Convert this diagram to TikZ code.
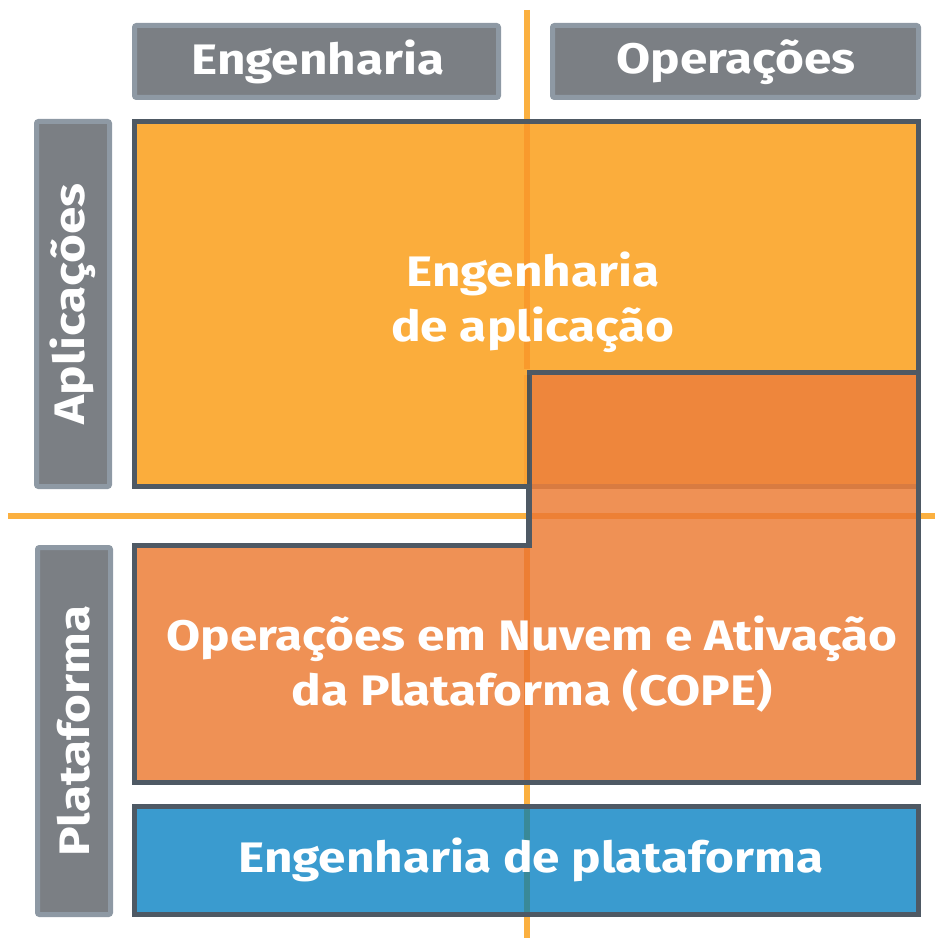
\documentclass[tikz,border=0pt]{standalone}
\usepackage{fontspec}
\setmainfont{Fira Sans}[FakeStretch=1.16]
\definecolor{lineor}{HTML}{FBB040}
\definecolor{appor}{HTML}{FBAD3C}
\definecolor{copeor}{HTML}{ED813C}
\definecolor{platblue}{HTML}{3A9BCF}
\definecolor{darkedge}{HTML}{4E5964}
\definecolor{grayfill}{HTML}{7B7F84}
\definecolor{grayedge}{HTML}{8E99A4}
\tikzset{
  hdr/.style={draw=grayedge, fill=grayfill, line width=3.75pt, rounded corners=1.5pt},
  boxedge/.style={draw=darkedge, line width=3.75pt},
  lbl/.style={text=white, font=\bfseries\fontsize{32}{41}\selectfont, align=center, inner sep=0pt},
  guide/.style={draw=lineor, line width=4pt},
}
\begin{document}
\begin{tikzpicture}[x=0.75pt,y=-0.75pt]
\useasboundingbox (0,0) rectangle (935,938);
% guide lines
\coordinate (vtop) at (527,10);
\coordinate (vmida) at (527,489);
\coordinate (vmidb) at (527,545);
\coordinate (vbot) at (527,938);
\coordinate (hl) at (8,516);
\coordinate (hm) at (528,516);
\coordinate (hr) at (935,516);
\draw[guide] (vtop) -- (vmida);
\draw[guide] (vmidb) -- (vbot);
\draw[guide] (hl) -- (hr);
% application engineering box
\path[boxedge, fill=appor] (134.5,121.5) coordinate (appnw) rectangle (918.5,486.5) coordinate (appse);
% COPE
\path[boxedge, fill=copeor, fill opacity=0.87] (529.5,372) -- (918.5,372) -- (918.5,782.5) -- (134.5,782.5) -- (134.5,545.5) -- (529.5,545.5) -- cycle;
\draw[darkedge, line width=3pt] (528,488) -- (528,545.5);
% platform engineering
\path[boxedge, fill=platblue] (134.5,806.5) rectangle (918.5,914.5);
% guide overlay
\begin{scope}[blend mode=multiply]
  \draw[guide, opacity=0.35] (527,124) -- (527,369);
  \draw[guide, opacity=0.2] (527,375) -- (527,484);
  \draw[guide, opacity=0.2] (527,548) -- (527,780);
  \draw[guide, opacity=0.35] (527,809) -- (527,912);
  \draw[guide, opacity=0.15] (532,516) -- (916,516);
\end{scope}
% headers
\path[hdr] (134.5,25.5) rectangle (498.5,97.5);
\path[hdr] (552.5,25.5) rectangle (918.5,97.5);
\path[hdr] (36.5,121.5) rectangle (109.5,486.5);
\path[hdr] (37.5,547.5) rectangle (110.5,914.5);
% texts
\node[lbl] (heng) at (318,62) {Engenharia};
\node[lbl] (hops) at (736,62) {Operações};
\node[lbl, rotate=90] (lapp) at (73,304) {Aplicações};
\node[lbl, rotate=90] (lplat) at (74,731) {Plataforma};
\node[lbl] (tapp) at (533,302) {Engenharia\\de aplicação};
\node[lbl] (tcope) at (532,664) {Operações em Nuvem e Ativação\\da Plataforma (COPE)};
\node[lbl] (tplat) at (531,860) {Engenharia de plataforma};
\end{tikzpicture}
\end{document}
